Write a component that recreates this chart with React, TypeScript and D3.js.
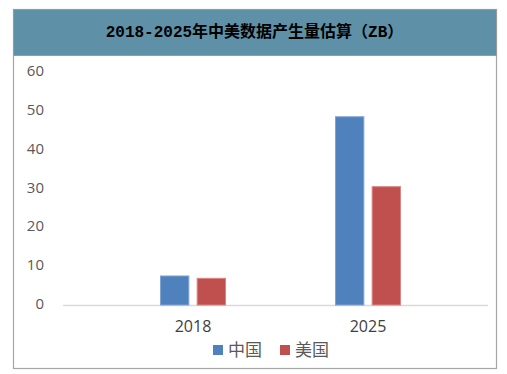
import React from "react";
import * as d3 from "d3";

const categories = ["2018", "2025"];
const seriesNames = ["中国", "美国"];
const chinaValues = [7.6, 48.6];
const usValues = [7.0, 30.6];
const yTicks = [0, 10, 20, 30, 40, 50, 60];
const colors = ["#4F81BD", "#C0504D"];
const strokeColors = ["#7FA3D3", "#D98583"];
const title = "2018-2025年中美数据产生量估算（ZB）";

export default function App() {
  const W = 507, H = 374;
  const frame = { x: 13, y: 9, w: 483, h: 359 };
  const titleH = 46;
  const plotLeft = 63, plotRight = 488;
  const y = d3.scaleLinear().domain([0, 60]).range([305, 72]);
  const x0 = d3.scalePoint<string>().domain(categories).range([105.5, 455.5]).padding(0.5);
  const groupW = 66;
  const x1 = d3.scaleBand<string>().domain(seriesNames).range([-groupW / 2, groupW / 2]).paddingInner(0.2);
  const series = [chinaValues, usValues];

  return (
    <svg width={W} height={H} style={{ position: "absolute", left: 0, top: 0 }}>
      <rect x={0} y={0} width={W} height={H} fill="#fff" />
      <rect x={frame.x + 0.5} y={frame.y + 0.5} width={frame.w} height={frame.h} fill="#fff" stroke="#a6a6a6" strokeWidth={1.2} />
      <rect x={frame.x + 0.5} y={frame.y + 0.5} width={frame.w} height={titleH} fill="#5E91A8" stroke="#9a9a9a" strokeWidth={1} />
      <text x={frame.x + frame.w / 2} y={frame.y + titleH / 2 + 1} textAnchor="middle" dominantBaseline="middle"
        fontFamily="'Liberation Mono', 'Noto Sans CJK SC', monospace" fontWeight="bold" fontSize={16} fill="#000">{title}</text>

      {yTicks.map((t) => (
        <text key={t} x={44} y={y(t)} textAnchor="end" dominantBaseline="middle"
          fontFamily="'Open Sans', 'DejaVu Sans', sans-serif" fontSize={15} fill="#595959">{t}</text>
      ))}
      <line x1={plotLeft} x2={plotRight} y1={y(0) + 0.5} y2={y(0) + 0.5} stroke="#d9d9d9" strokeWidth={1.5} />

      {categories.map((c, ci) => (
        <g key={c}>
          {series.map((vals, si) => (
            <rect key={si}
              x={(x0(c) ?? 0) + (x1(seriesNames[si]) ?? 0) + 0.5}
              y={y(vals[ci]) + 0.5}
              width={x1.bandwidth() - 1}
              height={y(0) - y(vals[ci]) - 0.5}
              fill={colors[si]} stroke={strokeColors[si]} strokeWidth={1} />
          ))}
          <text x={x0(c) ?? 0} y={332} textAnchor="middle"
            fontFamily="'Open Sans', 'DejaVu Sans', sans-serif" fontSize={16} fill="#404040">{c}</text>
        </g>
      ))}

      {seriesNames.map((s, i) => {
        const lx = 213 + i * 67;
        return (
          <g key={s}>
            <rect x={lx} y={345} width={10} height={10} fill={colors[i]} />
            <text x={lx + 15} y={351} dominantBaseline="middle"
              fontFamily="'Noto Sans CJK SC', sans-serif" fontSize={17} fill="#595959">{s}</text>
          </g>
        );
      })}
    </svg>
  );
}
